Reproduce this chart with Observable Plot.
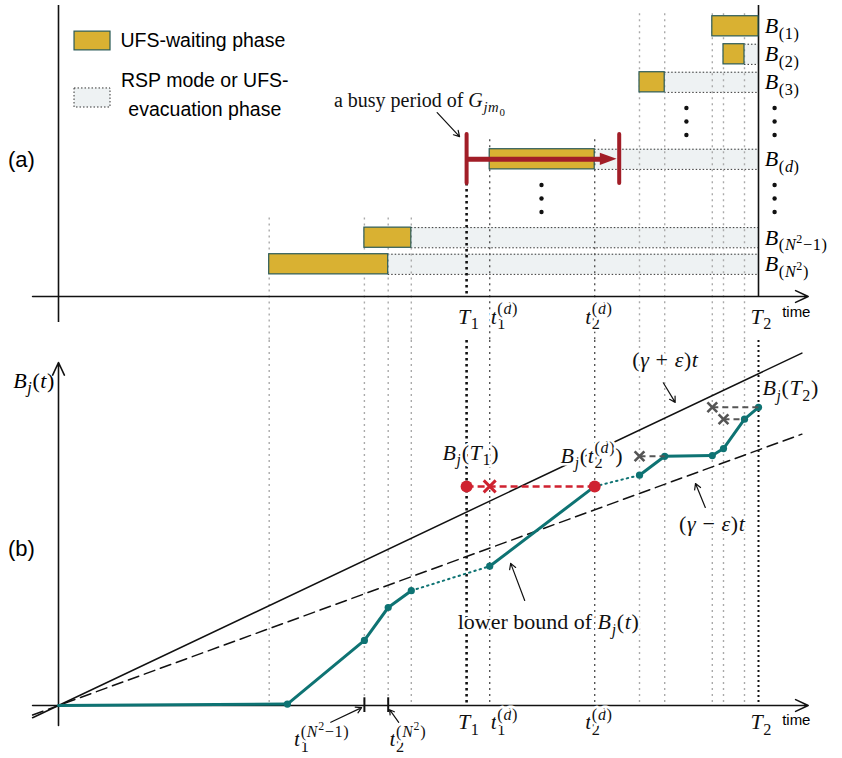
<!DOCTYPE html>
<html><head><meta charset="utf-8">
<script src="https://cdn.jsdelivr.net/npm/d3@7"></script>
<script src="https://cdn.jsdelivr.net/npm/@observablehq/plot@0.6"></script>
<style>
body{margin:0;background:#fff;}
#chart{width:842px;}
#chart svg{display:block;}
#chart svg text{white-space:pre;}
</style></head><body><div id="chart"></div>
<script>
// ---------------- data ----------------
// time axis in arbitrary units (origin = 0, T2 = 100)
const T1 = 58.3, T2 = 100;
const tickLabels = ["$T_1$", "$t_1^{(d)}$", "$t_2^{(d)}$", "$T_2$"];
const tickTimes = [58.6, 63.7, 77.2, 100.4];
const axisTimeSpan = [-3.7, 107.1];

// panel (a): busy periods of each B
const rowNames = ["$B_{(1)}$", "$B_{(2)}$", "$B_{(3)}$", "$B_{(d)}$", "$B_{(N^2-1)}$", "$B_{(N^2)}$"];
const rowLevel = [9.65, 8.65, 7.65, 4.9, 2.1, 1.15];
const waitStart = [93.4, 95.0, 83.0, 61.6, 43.7, 30.1];
const waitEnd = [100, 98.0, 86.6, 76.6, 50.4, 47.1];
const levelSpanA = [-0.93, 10.39];

// vertical guide lines at event times
const eventTimes = [30.1, 43.7, 47.1, 50.4, 61.6, 76.6, 83.0, 86.6, 93.4, 95.0, 98.0];
const eventTop = [2.8, 2.8, 2.8, 2.8, 5.6, 5.6, 10.1, 10.1, 10.1, 10.1, 10.1];
const eventDark = [0, 0, 0, 0, 1, 1, 0, 0, 0, 0, 0];

// busy period of G_jm0
const busyStart = 58.3, busyEnd = 80.1, busyLevel = 4.9, busyBar = [4.04, 5.79];

// vertical ellipses
const vdotTime = [69.0, 89.7, 102.3, 102.3];
const vdotLevel = [3.5, 6.25, 6.25, 3.5];

// legend
const legendLabels = ["UFS-waiting phase", "RSP mode or UFS-", "evacuation phase"];

// panel (b): lower bound of B_j(t)
const lbTime = [0, 32.7, 43.7, 47.1, 50.4, 61.6, 76.6, 83.0, 86.6, 93.4, 95.0, 98.0, 100];
const lbValue = [0, 0.2, 9.3, 14.0, 16.4, 19.9, 31.3, 32.9, 35.6, 35.7, 36.7, 40.9, 42.6];
const lbSegStyle = ["solid", "solid", "solid", "solid", "dotted", "solid", "dotted", "solid", "solid", "solid", "solid", "solid"];
const rateUpper = 0.474, rateLower = 0.365;
const rateSpan = [-3.7, 106.2];
const valueSpanB = [-2.86, 49.0];

const redValue = 31.3, redFrom = 58.3, redCross = 61.6, redTo = 76.6;
const crossFrom = [83.0, 93.4, 95.0];
const crossTo = [86.6, 100, 98.0];
const crossValue = [35.6, 42.6, 40.9];

const markTimes = [43.7, 47.1];
const markLabels = ["$t_1^{(N^2-1)}$", "$t_2^{(N^2)}$"];
const markLabelTime = [37.6, 49.9];
const markLabelValue = [-4.8, -4.8];

const noteText = ["$B_j(T_1)$", "$B_j(t_2^{(d)})$", "$(\u03b3 + \u03b5)t$", "$B_j(T_2)$", "$(\u03b3 - \u03b5)t$", "lower bound of $B_j(t)$"];
const noteTime = [58.9, 76.2, 86.7, 104.6, 93.4, 70.0];
const noteValue = [36.1, 35.7, 49.3, 45.3, 26.0, 11.9];
const arrowFromT = [86.4, 92.4, 66.6, 38.9, 48.6];
const arrowFromV = [46.1, 28.3, 15.0, -2.4, -2.4];
const arrowToT = [88.1, 91.0, 64.6, 43.3, 47.3];
const arrowToV = [43.3, 31.7, 20.3, -0.3, -0.6];

// ---------------- styles ----------------
const SERIF = "Liberation Serif", SANS = "Liberation Sans";
const MATHSIZE = 22;
const GOLD = "#d9b132", GOLDEDGE = "#2a5a58", LIGHT = "#eef2f3";
const TEAL = "#0e7373", RED = "#cf2230", DARKRED = "#a11d27";
const xDomain = [-58 / 7, 784 / 7];
const yDomainA = [-44 / 28, 296 / 28];
const yDomainB = [-53 / 7, 365 / 7];
const H = 0.36;

const rows = rowNames.map((name, i) => ({name, lev: rowLevel[i], ws: waitStart[i], we: waitEnd[i]}));
const light = rows.filter(d => d.we < T2);
const events = eventTimes.map((t, i) => ({t, top: eventTop[i], dark: eventDark[i]}));
const ticks = tickLabels.map((label, i) => ({label, t: tickTimes[i]}));
const vdots = vdotTime.flatMap((t, i) => [-0.48, 0, 0.48].map(o => ({t, lev: vdotLevel[i] + o})));
const halo = {stroke: "white", strokeWidth: 5, paintOrder: "stroke", fill: "#111"};

const headTip = busyEnd - 0.3, headBase = headTip - 2.4;
const head = [{x: headBase, y1: busyLevel - 0.22, y2: busyLevel + 0.22}, {x: headTip, y1: busyLevel, y2: busyLevel}];

const plotA = Plot.plot({
  width: 842, height: 340, margin: 0,
  x: {domain: xDomain, axis: null},
  y: {domain: yDomainA, axis: null},
  marks: [
    Plot.rect(light, {x1: "we", x2: () => T2, y1: d => d.lev - H, y2: d => d.lev + H, fill: LIGHT}),
    Plot.ruleY(light, {y: d => d.lev + H, x1: "we", x2: () => T2, stroke: "#333", strokeWidth: 1, strokeDasharray: "1.5,2"}),
    Plot.ruleY(light, {y: d => d.lev - H, x1: "we", x2: () => T2, stroke: "#333", strokeWidth: 1, strokeDasharray: "1.5,2"}),
    Plot.ruleX(events.filter(d => !d.dark), {x: "t", y1: "top", y2: yDomainA[0], stroke: "#aaa", strokeWidth: 1.4, strokeDasharray: "2,4"}),
    Plot.ruleX(events.filter(d => d.dark), {x: "t", y1: "top", y2: yDomainA[0], stroke: "#555", strokeWidth: 1.4, strokeDasharray: "2,4"}),
    Plot.ruleX([T1], {x: d => d, y1: busyBar[0], y2: 0, stroke: "#111", strokeWidth: 2.6, strokeDasharray: "2.5,3.5"}),
    Plot.ruleX([T2], {x: d => d, y1: levelSpanA[1], y2: 0, stroke: "#111", strokeWidth: 1.6}),
    Plot.rect(rows, {x1: "ws", x2: "we", y1: d => d.lev - H, y2: d => d.lev + H, fill: GOLD, stroke: GOLDEDGE, strokeWidth: 1.2}),
    // axes
    Plot.ruleX([0], {x: d => d, y1: levelSpanA[0], y2: levelSpanA[1], stroke: "#111", strokeWidth: 1.6}),
    Plot.arrow([0], {x1: axisTimeSpan[0], x2: axisTimeSpan[1], y1: 0, y2: 0, stroke: "#111", strokeWidth: 1.6, headLength: 13, headAngle: 50}),
    // busy period
    Plot.link([0], {x1: busyStart, x2: headBase + 0.3, y1: busyLevel, y2: busyLevel, stroke: DARKRED, strokeWidth: 5}),
    Plot.areaY(head, {x: "x", y1: "y1", y2: "y2", fill: DARKRED}),
    Plot.ruleX([busyStart, busyEnd], {x: d => d, y1: busyBar[0], y2: busyBar[1], stroke: DARKRED, strokeWidth: 4, strokeLinecap: "round"}),
    Plot.text(["a busy period of $G_{jm_0}$"], {x: () => 51.6, y: () => 7.0, fontFamily: SERIF, fontSize: 20, ...halo}),
    Plot.arrow([0], {x1: 54.1, y1: 6.57, x2: 57.3, y2: 5.71, stroke: "#111", strokeWidth: 1.2, headLength: 8}),
    // ellipses
    Plot.dot(vdots, {x: "t", y: "lev", r: 2.2, fill: "#111", stroke: "none"}),
    // labels
    Plot.text(rows, {x: () => 100.9, y: "lev", text: "name", textAnchor: "start", fontFamily: SERIF, fontSize: MATHSIZE}),
    Plot.text(ticks, {x: "t", y: () => -0.72, text: "label", fontFamily: SERIF, fontSize: MATHSIZE, ...halo}),
    Plot.text(["time"], {x: () => 105.4, y: () => -0.57, fontFamily: SANS, fontSize: 15}),
    Plot.text(["(a)"], {x: () => -5.3, y: () => 4.86, fontFamily: SANS, fontSize: 22}),
    // legend
    Plot.rect([0], {x1: 2.29, x2: 7.43, y1: 8.79, y2: 9.46, fill: GOLD, stroke: GOLDEDGE, strokeWidth: 1.2}),
    Plot.rect([0], {x1: 2.29, x2: 7.43, y1: 6.75, y2: 7.43, fill: LIGHT, stroke: "#333", strokeWidth: 1, strokeDasharray: "1.5,2"}),
    Plot.text([legendLabels[0]], {x: () => 8.86, y: () => 9.13, textAnchor: "start", fontFamily: SANS, fontSize: 19.5}),
    Plot.text(legendLabels.slice(1), {x: () => 20.9, y: (d, i) => [7.71, 6.68][i], fontFamily: SANS, fontSize: 19.5})
  ]
});

const lbSegs = lbSegStyle.map((s, i) => ({s, x1: lbTime[i], y1: lbValue[i], x2: lbTime[i + 1], y2: lbValue[i + 1]}));
const lbPts = lbTime.map((t, i) => ({t, v: lbValue[i]})).slice(1);
const crosses = crossFrom.map((t, i) => ({t, to: crossTo[i], v: crossValue[i]}));
const notes = noteText.map((label, i) => ({label, t: noteTime[i], v: noteValue[i]}));
const arrows = arrowFromT.map((t, i) => ({x1: t, y1: arrowFromV[i], x2: arrowToT[i], y2: arrowToV[i]}));
const marksB = markLabels.map((label, i) => ({label, t: markLabelTime[i], v: markLabelValue[i]}));

const plotB = Plot.plot({
  width: 842, height: 418, margin: 0,
  x: {domain: xDomain, axis: null},
  y: {domain: yDomainB, axis: null},
  marks: [
    Plot.ruleX(events.filter(d => !d.dark), {x: "t", y1: yDomainB[1], y2: 0, stroke: "#aaa", strokeWidth: 1.4, strokeDasharray: "2,4"}),
    Plot.ruleX(events.filter(d => d.dark), {x: "t", y1: yDomainB[1], y2: 0, stroke: "#555", strokeWidth: 1.4, strokeDasharray: "2,4"}),
    Plot.ruleX([T1], {x: d => d, y1: yDomainB[1], y2: 0, stroke: "#111", strokeWidth: 2.6, strokeDasharray: "2.5,3.5"}),
    Plot.ruleX([T2], {x: d => d, y1: yDomainB[1], y2: 0, stroke: "#111", strokeWidth: 2, strokeDasharray: "2,3"}),
    Plot.line(rateSpan, {x: d => d, y: d => rateUpper * d, stroke: "#111", strokeWidth: 1.5}),
    Plot.line(rateSpan, {x: d => d, y: d => rateLower * d, stroke: "#111", strokeWidth: 1.5, strokeDasharray: "11,6"}),
    // axes
    Plot.arrow([0], {x1: 0, x2: 0, y1: valueSpanB[0], y2: valueSpanB[1], stroke: "#111", strokeWidth: 1.6, headLength: 13, headAngle: 50}),
    Plot.arrow([0], {x1: axisTimeSpan[0], x2: axisTimeSpan[1], y1: 0, y2: 0, stroke: "#111", strokeWidth: 1.6, headLength: 13, headAngle: 50}),
    Plot.ruleX(markTimes, {x: d => d, y1: -1.0, y2: 1.1, stroke: "#111", strokeWidth: 2}),
    // lower bound
    Plot.link(lbSegs.filter(d => d.s === "solid"), {x1: "x1", y1: "y1", x2: "x2", y2: "y2", stroke: TEAL, strokeWidth: 3, strokeLinecap: "round"}),
    Plot.link(lbSegs.filter(d => d.s === "dotted"), {x1: "x1", y1: "y1", x2: "x2", y2: "y2", stroke: TEAL, strokeWidth: 2, strokeDasharray: "1.5,4", strokeLinecap: "round"}),
    Plot.dot(lbPts, {x: "t", y: "v", r: 3.6, fill: TEAL, stroke: "none"}),
    // red
    Plot.link([0], {x1: redFrom, x2: redTo, y1: redValue, y2: redValue, stroke: RED, strokeWidth: 2.5, strokeDasharray: "7,4"}),
    Plot.dot([redFrom, redTo], {x: d => d, y: () => redValue, r: 6, fill: RED, stroke: "none"}),
    Plot.dot([redCross], {x: d => d, y: () => redValue, r: 5.5, symbol: "times", stroke: RED, strokeWidth: 3}),
    // gray crosses
    Plot.link(crosses, {x1: "t", x2: "to", y1: "v", y2: "v", stroke: "#555", strokeWidth: 2, strokeDasharray: "6,4"}),
    Plot.dot(crosses, {x: "t", y: "v", r: 4.5, symbol: "times", stroke: "#555", strokeWidth: 2.6}),
    // labels
    Plot.text(notes, {x: "t", y: "v", text: "label", fontFamily: SERIF, fontSize: MATHSIZE, ...halo}),
    Plot.arrow(arrows, {x1: "x1", y1: "y1", x2: "x2", y2: "y2", stroke: "#111", strokeWidth: 1.2, headLength: 8}),
    Plot.text(marksB, {x: "t", y: "v", text: "label", fontFamily: SERIF, fontSize: MATHSIZE, ...halo}),
    Plot.text(ticks, {x: "t", y: () => -2.4, text: "label", fontFamily: SERIF, fontSize: MATHSIZE, ...halo}),
    Plot.text(["time"], {x: () => 105.4, y: () => -2.1, fontFamily: SANS, fontSize: 15}),
    Plot.text(["$B_j(t)$"], {x: () => -0.5, y: () => 46.4, textAnchor: "end", fontFamily: SERIF, fontSize: MATHSIZE}),
    Plot.text(["(b)"], {x: () => -5.3, y: () => 22.4, fontFamily: SANS, fontSize: 22})
  ]
});

const chart = document.getElementById("chart");
chart.appendChild(plotA);
chart.appendChild(plotB);

// ---------------- minimal math typesetting into tspans ----------------
const LS = 0.6; // extra letter spacing in math mode
const measureCtx = document.createElement("canvas").getContext("2d");
function textWidth(s, size, italic, family, math) {
  measureCtx.font = `${italic ? "italic " : ""}${size}px ${family}`;
  return measureCtx.measureText(s).width + (math ? LS * s.length : 0);
}
function layoutMath(family) {
  const runs = [];
  let math = false, pendingDx = 0;
  const isLetter = c => /[A-Za-z\u03b1-\u03c9\u0391-\u03a9]/.test(c);
  function push(ch, size, shift, italic) {
    const last = runs[runs.length - 1];
    if (last && !pendingDx && last.size === size && last.shift === shift && last.italic === italic && last.math === math) last.t += ch;
    else { runs.push({t: ch, size, shift, italic, math, dx: pendingDx}); pendingDx = 0; }
  }
  function readGroup(s, i) {
    if (s[i] === "{") {
      let depth = 1, j = i + 1;
      while (j < s.length && depth) { if (s[j] === "{") depth++; else if (s[j] === "}") depth--; j++; }
      return [s.slice(i + 1, j - 1), j];
    }
    return [s[i], i + 1];
  }
  function widthFrom(k) {
    let w = 0;
    for (let m = k; m < runs.length; m++) w += (runs[m].dx || 0) + textWidth(runs[m].t, runs[m].size, runs[m].italic, family, runs[m].math);
    return w;
  }
  function emit(s, size, shift) {
    let i = 0;
    while (i < s.length) {
      const c = s[i];
      if (c === "$") { math = !math; i++; continue; }
      if (math && (c === "_" || c === "^")) {
        const [g, j] = readGroup(s, i + 1);
        const small = size * 0.74;
        const sh = c === "_" ? shift + size * 0.25 : shift - size * 0.42;
        const k = runs.length;
        emit(g, small, sh);
        const w1 = widthFrom(k);
        i = j;
        const other = c === "_" ? "^" : "_";
        if (s[i] === other) {
          const [g2, j2] = readGroup(s, i + 1);
          const sh2 = other === "_" ? shift + size * 0.25 : shift - size * 0.42;
          pendingDx = -w1;
          const k2 = runs.length;
          emit(g2, small, sh2);
          const w2 = widthFrom(k2) + w1;
          if (w1 > w2) pendingDx = w1 - w2;
          i = j2;
        }
        continue;
      }
      let ch = c;
      if (math && c === "-") ch = "\u2212";
      push(ch, size, shift, math && isLetter(c));
      i++;
    }
  }
  return {runs, emit};
}
function renderMath(el) {
  const str = el.textContent;
  const cs = getComputedStyle(el);
  const size = parseFloat(cs.fontSize);
  const family = cs.fontFamily;
  const L = layoutMath(family);
  L.emit(str, size, 0);
  el.textContent = "";
  let cur = 0;
  for (const r of L.runs) {
    const ts = document.createElementNS("http://www.w3.org/2000/svg", "tspan");
    ts.textContent = r.t;
    ts.setAttribute("font-size", r.size);
    ts.setAttribute("font-style", r.italic ? "italic" : "normal");
    if (r.math) ts.setAttribute("letter-spacing", LS);
    if (r.shift !== cur) { ts.setAttribute("dy", r.shift - cur); cur = r.shift; }
    if (r.dx) ts.setAttribute("dx", r.dx);
    el.appendChild(ts);
  }
}
chart.querySelectorAll("text").forEach(el => { if (el.textContent.includes("$")) renderMath(el); });
</script></body></html>
